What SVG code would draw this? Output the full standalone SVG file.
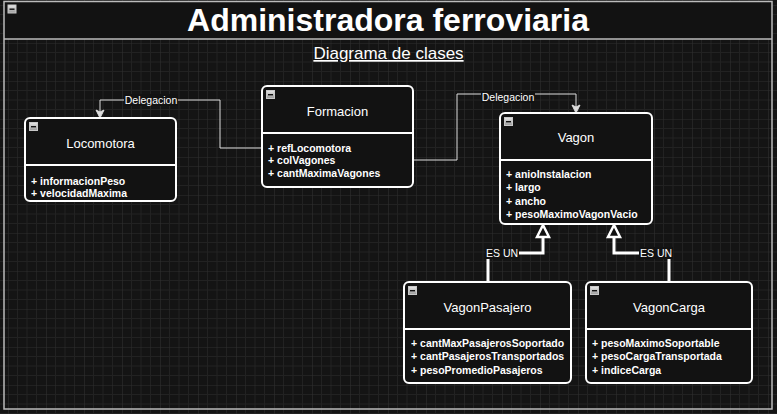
<svg xmlns="http://www.w3.org/2000/svg" width="777" height="414" viewBox="0 0 777 414">
<defs>
<pattern id="grid" x="8" y="5" width="38" height="38" patternUnits="userSpaceOnUse">
<path d="M9.5 0V38M19 0V38M28.5 0V38M0 9.5H38M0 19H38M0 28.5H38" stroke="#222" stroke-width="1" fill="none"/>
<path d="M0 0V38M0 0H38" stroke="#2e2e2e" stroke-width="1.2" fill="none"/>
</pattern>
<linearGradient id="btn" x1="0" y1="0" x2="0" y2="1">
<stop offset="0" stop-color="#e8e8e8"/><stop offset="1" stop-color="#9a9a9a"/>
</linearGradient>
<g id="minus">
<rect x="0.5" y="0.5" width="8" height="8" fill="url(#btn)" stroke="#c8c8c8" stroke-width="1"/>
<rect x="2" y="4" width="5" height="1.4" fill="#111"/>
</g>
</defs>
<style>
.box{fill:#121212;stroke:#fff;stroke-width:2}
.div{stroke:#fff;stroke-width:2}
.title{font-family:"Liberation Sans",Arial,sans-serif;font-size:13px;fill:#fff;text-anchor:middle}
.attr{font-family:"Liberation Sans",Arial,sans-serif;font-size:10.5px;font-weight:bold;fill:#fff}
.lbl{font-family:"Liberation Sans",Arial,sans-serif;font-size:10.5px;fill:#fff;text-anchor:middle}
.thin{fill:none;stroke:#ddd;stroke-width:1}
.thick{fill:none;stroke:#fff;stroke-width:3}
.tri{fill:#121212;stroke:#fff;stroke-width:2.5;stroke-linejoin:miter}
</style>
<rect width="777" height="414" fill="#141414"/>
<rect width="777" height="414" fill="url(#grid)"/>
<g id="container">
<rect x="4" y="1.5" width="768" height="37.5" fill="#121212"/>
<rect x="4" y="1.5" width="768" height="407.5" fill="none" stroke="#bbb" stroke-width="1.5"/>
<line x1="4" y1="39" x2="772" y2="39" stroke="#bbb" stroke-width="1.5"/>
<use href="#minus" x="7.5" y="4.5"/>
<text x="388" y="31" font-family="'Liberation Sans',Arial,sans-serif" font-size="32" font-weight="bold" fill="#fff" text-anchor="middle">Administradora ferroviaria</text>
<text x="388.5" y="59" font-family="'Liberation Sans',Arial,sans-serif" font-size="17" fill="#fff" text-anchor="middle" text-decoration="underline">Diagrama de clases</text>
</g>
<g id="connectors">
<polyline class="thin" points="262,148 220,148 220,100 100,100 100,113"/>
<path d="M96,110 L100,118 L104,110 L100,112 Z" fill="#ddd" stroke="#ddd" stroke-width="1"/>
<rect x="124" y="94" width="54" height="12" fill="#121212"/>
<text class="lbl" x="151" y="103.5">Delegacion</text>
<polyline class="thin" points="413,160 457,160 457,94 576,94 576,108"/>
<path d="M572,105 L576,113 L580,105 L576,107 Z" fill="#ddd" stroke="#ddd" stroke-width="1"/>
<rect x="481" y="91" width="54" height="12" fill="#121212"/>
<text class="lbl" x="508" y="101">Delegacion</text>
<polyline class="thick" points="488,282 488,253 543,253 543,237"/>
<path class="tri" d="M543,225 L549,237 L537,237 Z"/>
<rect x="485" y="247" width="34" height="12" fill="#121212"/>
<text class="lbl" x="502" y="257">ES UN</text>
<polyline class="thick" points="669,282 669,253 614,253 614,237"/>
<path class="tri" d="M614,225 L620,237 L608,237 Z"/>
<rect x="639" y="247" width="34" height="12" fill="#121212"/>
<text class="lbl" x="656" y="257">ES UN</text>
</g>
<g id="Locomotora">
<rect class="box" x="25" y="118" width="151" height="83" rx="5"/>
<line class="div" x1="25" y1="165" x2="176" y2="165"/>
<use href="#minus" x="29" y="122"/>
<text class="title" x="100.5" y="148">Locomotora</text>
<text class="attr" x="31" y="185">+ informacionPeso</text>
<text class="attr" x="31" y="197">+ velocidadMaxima</text>
</g>
<g id="Formacion">
<rect class="box" x="262" y="86" width="151" height="101" rx="5"/>
<line class="div" x1="262" y1="133" x2="413" y2="133"/>
<use href="#minus" x="266" y="90"/>
<text class="title" x="337.5" y="116">Formacion</text>
<text class="attr" x="268" y="152">+ refLocomotora</text>
<text class="attr" x="268" y="164">+ colVagones</text>
<text class="attr" x="268" y="177">+ cantMaximaVagones</text>
</g>
<g id="Vagon">
<rect class="box" x="500" y="113" width="152" height="111" rx="5"/>
<line class="div" x1="500" y1="160" x2="652" y2="160"/>
<use href="#minus" x="504" y="117"/>
<text class="title" x="576" y="142">Vagon</text>
<text class="attr" x="506" y="178">+ anioInstalacion</text>
<text class="attr" x="506" y="191">+ largo</text>
<text class="attr" x="506" y="205">+ ancho</text>
<text class="attr" x="506" y="218">+ pesoMaximoVagonVacio</text>
</g>
<g id="VagonPasajero">
<rect class="box" x="404" y="282" width="167" height="101" rx="5"/>
<line class="div" x1="404" y1="329" x2="571" y2="329"/>
<use href="#minus" x="408" y="286"/>
<text class="title" x="487.5" y="312">VagonPasajero</text>
<text class="attr" x="411" y="347">+ cantMaxPasajerosSoportado</text>
<text class="attr" x="411" y="360">+ cantPasajerosTransportados</text>
<text class="attr" x="411" y="374">+ pesoPromedioPasajeros</text>
</g>
<g id="VagonCarga">
<rect class="box" x="586" y="282" width="166" height="101" rx="5"/>
<line class="div" x1="586" y1="329" x2="752" y2="329"/>
<use href="#minus" x="590" y="286"/>
<text class="title" x="669" y="312">VagonCarga</text>
<text class="attr" x="592" y="347">+ pesoMaximoSoportable</text>
<text class="attr" x="592" y="360">+ pesoCargaTransportada</text>
<text class="attr" x="592" y="374">+ indiceCarga</text>
</g>
</svg>
